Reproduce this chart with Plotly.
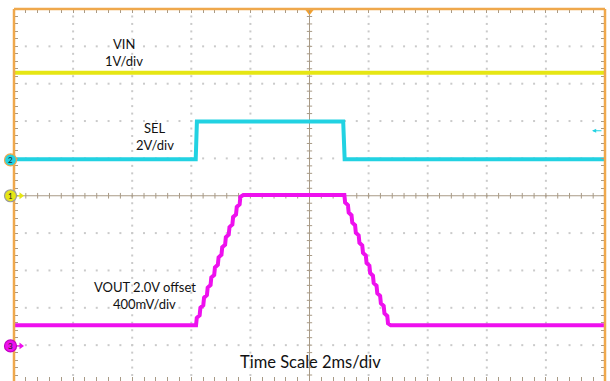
import numpy as np
import plotly.graph_objects as go

# screen: 10 x 10 divisions, 2 ms/div, vertical values in divisions (0 = centre line)
vin_t = [0.0, 20.0]
vin_v = [3.29, 3.29]

sel_t = [0.0, 6.15, 6.19, 11.14, 11.19, 20.0]
sel_v = [0.98, 0.98, 1.99, 1.99, 0.98, 0.98]

vout_rise_t = [6.16, 6.185, 6.283, 6.308, 6.406, 6.431, 6.529, 6.554, 6.652, 6.677,
               6.775, 6.800, 6.898, 6.923, 7.021, 7.046, 7.144, 7.169, 7.267, 7.292,
               7.390, 7.415, 7.513, 7.538, 7.636, 7.661, 7.76]
vout_rise_v = [-3.47, -3.27, -3.20, -3.00, -2.93, -2.73, -2.66, -2.46, -2.39, -2.19,
               -2.12, -1.92, -1.85, -1.65, -1.58, -1.38, -1.31, -1.11, -1.04, -0.84,
               -0.77, -0.57, -0.50, -0.30, -0.23, -0.03, 0.02]
vout_fall_t = [11.18, 11.205, 11.301, 11.326, 11.422, 11.447, 11.543, 11.568, 11.664, 11.689,
               11.785, 11.810, 11.906, 11.931, 12.027, 12.052, 12.148, 12.173, 12.269, 12.294,
               12.390, 12.415, 12.511, 12.536, 12.632, 12.657, 12.75]
vout_fall_v = [0.02, -0.18, -0.25, -0.45, -0.52, -0.72, -0.79, -0.99, -1.06, -1.26,
               -1.33, -1.53, -1.60, -1.80, -1.87, -2.07, -2.14, -2.34, -2.41, -2.61,
               -2.68, -2.88, -2.95, -3.15, -3.22, -3.42, -3.47]
vout_t = [0.0] + vout_rise_t + vout_fall_t + [20.0]
vout_v = [-3.47] + vout_rise_v + vout_fall_v + [-3.47]

# channel ground markers (divisions)
ch_labels = ['1', '2', '3']
ch_levels = [0.0, 0.96, -4.02]

W, H = 610, 381
L, R, T = 14, 5, 9
PX_X = (W - L - R) / 10.0   # px per division
PX_Y = 37.35
Y_TOP = 5.0
Y_BOT = Y_TOP - (H - T) / PX_Y

YELLOW = '#E6E614'
CYAN = '#22D2E2'
MAGENTA = '#EE10EE'
ORANGE = '#EFA84C'
TICK = '#A89A86'
DOT = '#CACACA'
FONT = 'Lato, Open Sans, sans-serif'


def tx(px):
    return (px - L) / PX_X * 2


def ty(py):
    return (196 - py) / PX_Y


def paper_y(v):
    return (v - Y_BOT) / (Y_TOP - Y_BOT)


fig = go.Figure()

# dotted graticule
gx, gy = [], []
for d in [1, 2, 3, 4, 6, 7, 8, 9]:
    ys = np.arange(-5, 5.001, 0.2)
    gx += [d * 2.0] * len(ys)
    gy += list(ys)
for d in [-4, -3, -2, -1, 1, 2, 3, 4]:
    xs = np.arange(0, 20.001, 0.4)
    gx += list(xs)
    gy += [d] * len(xs)
fig.add_trace(go.Scatter(x=gx, y=gy, mode='markers', hoverinfo='skip',
                         marker=dict(symbol='square', size=2, color=DOT, line_width=0)))

# centre cross with small ticks
cx, cy = [10, 10, None, 0, 20, None], [-6, 6, None, 0, 0, None]
for v in np.arange(-5, 5.001, 0.2):
    cx += [10 - 0.09, 10 + 0.09, None]
    cy += [v, v, None]
for t in np.arange(0, 20.001, 0.4):
    cx += [t, t, None]
    cy += [-0.075, 0.075, None]
fig.add_trace(go.Scatter(x=cx, y=cy, mode='lines', hoverinfo='skip',
                         line=dict(color=TICK, width=1)))

# waveforms
fig.add_trace(go.Scatter(x=vin_t, y=vin_v, mode='lines', line=dict(color=YELLOW, width=4)))
fig.add_trace(go.Scatter(x=sel_t, y=sel_v, mode='lines', line=dict(color=CYAN, width=4)))
fig.add_trace(go.Scatter(x=vout_t, y=vout_v, mode='lines', line=dict(color=MAGENTA, width=4)))

# frame: left, top, right (bottom edge falls just outside the picture)
for x0, y0, x1, y1 in [(0, 0, 0, 1), (0, 1, 1, 1), (1, 0, 1, 1)]:
    fig.add_shape(type='line', xref='paper', yref='paper', x0=x0, y0=y0, x1=x1, y1=y1,
                  line=dict(color=ORANGE, width=2.5), layer='above')

# channel markers on the left edge
ch_fill = [YELLOW, CYAN, MAGENTA]
ch_line = ['#9A9A9A', ORANGE, '#C000C0']
for lab, lev, fc, lc in zip(ch_labels, ch_levels, ch_fill, ch_line):
    if lab != '2':
        fig.add_trace(go.Scatter(x=[tx(15.5), tx(20)], y=[lev, lev], mode='lines',
                                 line=dict(color=fc, width=1.5), cliponaxis=False))
        fig.add_trace(go.Scatter(x=[tx(21)], y=[lev], mode='markers', cliponaxis=False,
                                 marker=dict(symbol='triangle-right', size=6, color=fc,
                                             line_width=0)))
    fig.add_shape(type='circle', xref='paper', yref='paper',
                  xsizemode='pixel', ysizemode='pixel', xanchor=0, yanchor=paper_y(lev),
                  x0=-9.5, x1=2.5, y0=-6, y1=6, layer='above',
                  fillcolor=fc, line=dict(color=lc, width=1.2))
    fig.add_annotation(xref='paper', yref='paper', x=0, y=paper_y(lev), xshift=-3.5,
                       text=lab, showarrow=False, xanchor='center', yanchor='middle',
                       font=dict(size=8, color='#202020', family=FONT))

# trigger position marker (top) and trigger level arrow (right)
fig.add_trace(go.Scatter(x=[10.0], y=[ty(12)], mode='markers', cliponaxis=False,
                         marker=dict(symbol='triangle-down', size=7, color='#F0A030', line_width=0)))
fig.add_annotation(x=tx(592), y=ty(131), ax=11, ay=0, text='', showarrow=True,
                   arrowhead=2, arrowsize=0.7, arrowwidth=1.2, arrowcolor=CYAN)

labels = [
    ('VIN', 123.5, 44, 13),
    ('1V/div', 124, 61, 13),
    ('SEL', 155, 128, 13),
    ('2V/div', 155, 145, 13),
    ('VOUT 2.0V offset', 145, 287, 13),
    ('400mV/div', 144.5, 304, 13),
    ('Time Scale 2ms/div', 310.5, 362, 16.5),
]
for txt, px, py, fs in labels:
    fig.add_annotation(x=tx(px), y=ty(py), text=txt, showarrow=False,
                       xanchor='center', yanchor='middle',
                       font=dict(family=FONT, size=fs, color='#111111'))

fig.update_layout(
    width=W, height=H,
    margin=dict(l=L, r=R, t=T, b=0, pad=0),
    paper_bgcolor='white', plot_bgcolor='white',
    showlegend=False,
    xaxis=dict(range=[0, 20], showgrid=False, zeroline=False, showticklabels=False,
               showline=False, ticks='inside', tick0=0, dtick=0.4, ticklen=4,
               tickcolor=TICK, mirror='ticks', fixedrange=True),
    yaxis=dict(range=[Y_BOT, Y_TOP], showgrid=False, zeroline=False, showticklabels=False,
               showline=False, ticks='inside', tick0=0, dtick=0.2, ticklen=4,
               tickcolor=TICK, mirror='ticks', fixedrange=True),
)

fig.write_html("out.html", config={'displayModeBar': False},
               post_script="document.body.style.margin='0';")
